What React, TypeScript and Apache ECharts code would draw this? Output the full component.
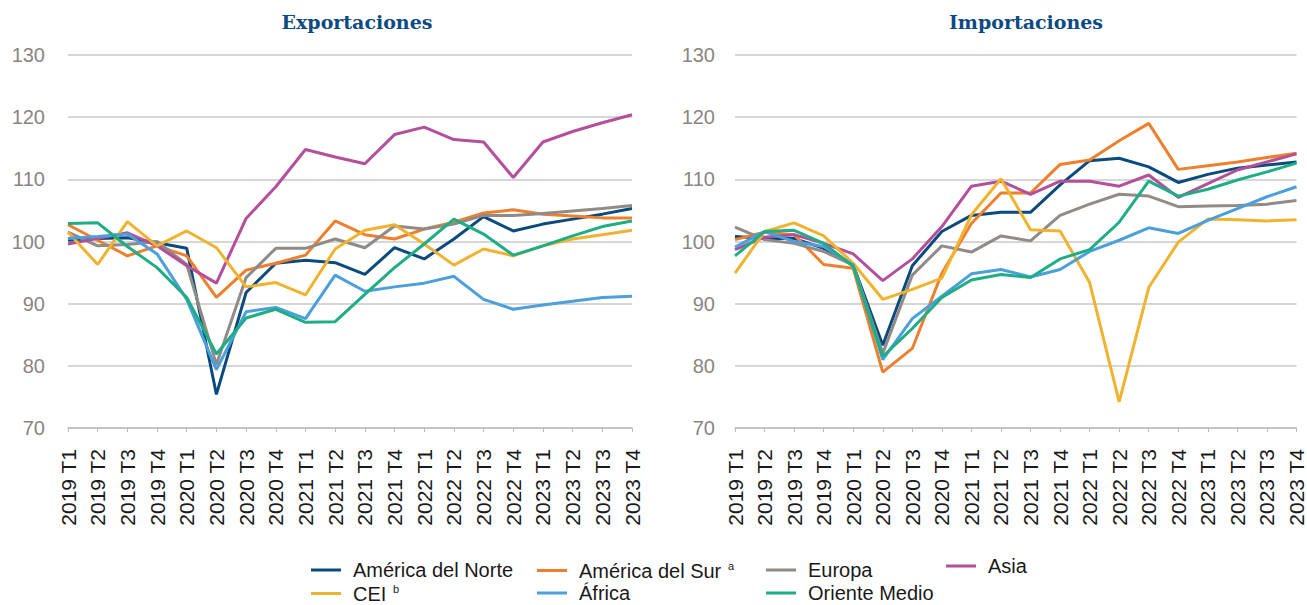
import React, { useEffect, useRef } from "react";
import * as echarts from "echarts";

const categories = [
  "2019 T1", "2019 T2", "2019 T3", "2019 T4",
  "2020 T1", "2020 T2", "2020 T3", "2020 T4",
  "2021 T1", "2021 T2", "2021 T3", "2021 T4",
  "2022 T1", "2022 T2", "2022 T3", "2022 T4",
  "2023 T1", "2023 T2", "2023 T3", "2023 T4",
];

const seriesNames = ["América del Norte", "América del Sur", "Europa", "Asia", "CEI", "África", "Oriente Medio"];
const seriesColors = ["#0b4a7d", "#ee7f2d", "#918b88", "#b34f9b", "#efb32f", "#4b9fdb", "#1fad85"];

// Exportaciones
const expNorte = [100.2, 100.5, 100.6, 99.8, 98.9, 75.4, 91.8, 96.5, 97.0, 96.6, 94.7, 99.0, 97.2, 100.4, 104.0, 101.7, 102.8, 103.6, 104.4, 105.3];
const expSur = [102.7, 100.2, 97.7, 99.3, 97.7, 91.0, 95.4, 96.5, 97.8, 103.3, 101.1, 100.4, 102.0, 103.1, 104.6, 105.1, 104.4, 104.1, 103.8, 103.8];
const expEuropa = [101.5, 99.3, 99.5, 100.0, 96.3, 80.2, 94.2, 98.9, 98.9, 100.4, 99.0, 102.5, 102.0, 102.8, 104.2, 104.2, 104.5, 104.9, 105.3, 105.8];
const expAsia = [99.6, 100.5, 101.4, 99.3, 96.1, 93.3, 103.7, 108.8, 114.8, 113.6, 112.5, 117.2, 118.4, 116.4, 116.0, 110.3, 116.0, 117.7, 119.1, 120.4];
const expCEI = [101.5, 96.3, 103.2, 99.3, 101.7, 99.0, 92.7, 93.4, 91.4, 98.8, 101.8, 102.7, 99.6, 96.2, 98.8, 97.7, 99.3, 100.4, 101.1, 101.8];
const expAfrica = [100.5, 100.8, 101.2, 98.0, 90.7, 79.4, 88.7, 89.4, 87.6, 94.6, 92.0, 92.7, 93.3, 94.4, 90.7, 89.1, 89.8, 90.4, 91.0, 91.2];
const expOriente = [102.9, 103.0, 99.2, 95.8, 91.0, 81.9, 87.7, 89.1, 87.0, 87.1, 91.5, 95.8, 99.6, 103.6, 101.2, 97.8, 99.3, 100.9, 102.4, 103.3];

// Importaciones
const impNorte = [100.8, 100.5, 100.5, 98.9, 96.2, 83.3, 96.1, 101.6, 104.2, 104.7, 104.7, 109.1, 113.0, 113.4, 112.0, 109.5, 110.8, 111.8, 112.3, 112.8];
const impSur = [100.3, 101.5, 101.1, 96.3, 95.7, 79.0, 82.8, 94.9, 102.9, 107.8, 107.8, 112.4, 113.1, 116.2, 119.0, 111.6, 112.2, 112.8, 113.5, 114.2];
const impEuropa = [102.3, 100.3, 99.7, 98.4, 96.2, 82.0, 94.6, 99.3, 98.3, 100.9, 100.1, 104.2, 106.0, 107.6, 107.3, 105.6, 105.7, 105.8, 106.0, 106.6];
const impAsia = [98.7, 100.7, 101.1, 99.7, 98.0, 93.7, 97.2, 102.4, 108.9, 109.7, 107.6, 109.7, 109.7, 108.9, 110.7, 107.1, 109.3, 111.5, 112.8, 114.1];
const impCEI = [94.9, 101.6, 103.0, 100.9, 96.5, 90.7, 92.3, 94.1, 104.3, 110.1, 101.9, 101.7, 93.4, 74.2, 92.6, 99.9, 103.6, 103.5, 103.3, 103.5];
const impAfrica = [99.1, 101.6, 100.0, 99.2, 96.2, 81.0, 87.6, 91.2, 94.8, 95.5, 94.3, 95.5, 98.4, 100.2, 102.2, 101.3, 103.4, 105.3, 107.2, 108.8];
const impOriente = [97.7, 101.6, 101.8, 99.7, 96.0, 81.5, 86.0, 91.0, 93.8, 94.7, 94.2, 97.2, 98.7, 103.1, 109.7, 107.3, 108.4, 109.9, 111.2, 112.6];

const exportData = [expNorte, expSur, expEuropa, expAsia, expCEI, expAfrica, expOriente];
const importData = [impNorte, impSur, impEuropa, impAsia, impCEI, impAfrica, impOriente];

const yTicks = { min: 70, max: 130, interval: 10 };
const superscripts: Record<string, string> = { "América del Sur": "a", CEI: "b" };

const legendPlaces = [
  { left: 311, top: 560 },
  { left: 537, top: 560 },
  { left: 766, top: 560 },
  { left: 946, top: 556 },
  { left: 311, top: 583 },
  { left: 537, top: 583 },
  { left: 766, top: 583 },
];

export default function App() {
  const ref = useRef<HTMLDivElement>(null);

  useEffect(() => {
    if (!ref.current) return;
    const chart = echarts.init(ref.current, null, { renderer: "svg" });

    const font = "'Liberation Sans', Arial, sans-serif";

    const makeX = (gridIndex: number) => ({
      type: "category",
      gridIndex,
      data: categories,
      boundaryGap: false,
      axisLine: { lineStyle: { color: "#bdbdbd", width: 1.5 } },
      axisTick: { show: true, length: 4, lineStyle: { color: "#bdbdbd" }, alignWithLabel: true },
      axisLabel: {
        rotate: 90,
        interval: 0,
        margin: 21,
        fontSize: 21,
        fontFamily: font,
        color: "#1a1a1a",
      },
      splitLine: { show: false },
    });

    const makeY = (gridIndex: number, margin: number) => ({
      type: "value",
      gridIndex,
      min: yTicks.min,
      max: yTicks.max,
      interval: yTicks.interval,
      axisLine: { show: false },
      axisTick: { show: false },
      axisLabel: { margin, fontSize: 20, fontFamily: font, color: "#8a8583" },
      splitLine: { lineStyle: { color: "#c9c9c9", width: 1.5 } },
    });

    const series: any[] = [];
    [exportData, importData].forEach((group, gi) => {
      group.forEach((values, si) => {
        series.push({
          name: seriesNames[si],
          type: "line",
          xAxisIndex: gi,
          yAxisIndex: gi,
          data: values,
          symbol: "none",
          showSymbol: false,
          lineStyle: { width: 3, color: seriesColors[si] },
          itemStyle: { color: seriesColors[si] },
          emphasis: { disabled: true },
        });
      });
    });

    const legends = seriesNames.map((name, i) => ({
      data: [name],
      left: legendPlaces[i].left,
      top: legendPlaces[i].top,
      icon: "rect",
      itemWidth: 30,
      itemHeight: 3,
      padding: 0,
      selectedMode: false,
      formatter: (n: string) => (superscripts[n] ? `{t|${n}}  {s|${superscripts[n]}}` : `{t|${n}}`),
      textStyle: {
        padding: [0, 0, 0, 7],
        rich: {
          t: { fontSize: 20, fontFamily: font, color: "#1a1a1a" },
          s: { fontSize: 11, fontFamily: font, color: "#1a1a1a", verticalAlign: "top", padding: [0, 0, 10, 0] },
        },
      },
    }));

    const titleStyle = { fontFamily: "'DejaVu Serif', serif", fontWeight: "bold", fontSize: 19, color: "#0d4a84" };

    chart.setOption({
      animation: false,
      backgroundColor: "#ffffff",
      title: [
        { text: "Exportaciones", left: 352, top: 7, textAlign: "center", textStyle: titleStyle },
        { text: "Importaciones", left: 1021, top: 7, textAlign: "center", textStyle: titleStyle },
      ],
      legend: legends,
      grid: [
        { left: 68, right: 675, top: 55, bottom: 177 },
        { left: 735, right: 7, top: 55, bottom: 177 },
      ],
      xAxis: [makeX(0), makeX(1)],
      yAxis: [makeY(0, 23), makeY(1, 20)],
      series,
    });

    return () => chart.dispose();
  }, []);

  return (
    <div
      ref={ref}
      style={{ position: "fixed", left: 0, top: 0, width: 1307, height: 605, background: "#fff" }}
    />
  );
}
